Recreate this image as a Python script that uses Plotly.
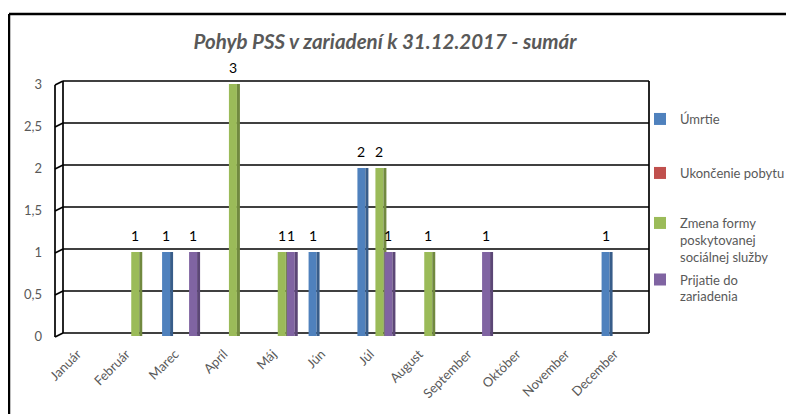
import plotly.graph_objects as go

# ---- data ----
months = ["Január", "Február", "Marec", "Apríl", "Máj", "Jún", "Júl",
          "August", "September", "Október", "November", "December"]
umrtie = [None, None, 1, None, None, 1, 2, None, None, None, None, 1]
ukoncenie = [None, None, None, None, None, None, None, None, None, None, None, None]
zmena = [None, 1, None, 3, 1, None, 2, 1, None, None, None, None]
prijatie = [None, None, 1, None, 1, None, 1, None, 1, None, None, None]
series_names = ["Úmrtie", "Ukončenie pobytu",
                "Zmena formy<br>poskytovanej<br>sociálnej služby",
                "Prijatie do<br>zariadenia"]
y_ticks = [0, 0.5, 1, 1.5, 2, 2.5, 3]
title_text = "Pohyb PSS v zariadení k 31.12.2017 - sumár"

# ---- layout geometry (screen pixels; page body has an 8px margin) ----
OFF = 8
WIDTH, HEIGHT = 794 - OFF, 414 - OFF
L, R, T, B = 58 - OFF, 794 - 644, 84 - OFF, 414 - 336
PW = WIDTH - L - R
PH = HEIGHT - T - B


def px(p):
    return (p - OFF - L) / PW


def py(p):
    return (HEIGHT - B - (p - OFF)) / PH


front_colors = ["#4F81BD", "#C0504D", "#9BBB59", "#8064A2"]
side_colors = ["#385D8A", "#8C3836", "#71893F", "#5C4776"]
all_series = [umrtie, ukoncenie, zmena, prijatie]

cw = PW / len(months)          # category width in px
slot = 9 / cw
face = 8 / cw
side = 3 / cw
start = -18 / cw

FONT = "Lato, 'Open Sans', sans-serif"
GREY = "#595959"

fig = go.Figure()
x = list(range(len(months)))
legend_ids = ["legend", "legend2", "legend3", "legend4"]
annotations = []
for i, vals in enumerate(all_series):
    off = start + i * slot
    fig.add_trace(go.Bar(
        x=x, y=vals, name=series_names[i],
        offset=off, width=face,
        marker=dict(color=front_colors[i], line=dict(width=0)),
        legend=legend_ids[i],
        hovertext=months,
    ))
    fig.add_trace(go.Bar(
        x=x, y=vals, offset=off + face, width=side,
        marker=dict(color=side_colors[i], line=dict(width=0)),
        showlegend=False, hoverinfo="skip",
    ))
    # data labels above each non-empty bar
    for xi, v in zip(x, vals):
        if v is None:
            continue
        annotations.append(dict(
            x=xi + off + face / 2, y=v, xref="x", yref="y",
            text=f"{v:g}", showarrow=False, yanchor="middle", yshift=17,
            font=dict(family=FONT, size=14, color="#000000")))

shapes = []
LINE = dict(color="#000000", width=1.7)
# back-wall grid lines and left wall
for v in y_ticks:
    yb = 333 - v * 84
    yf = 337 - v * 84
    shapes.append(dict(type="line", xref="paper", yref="paper",
                       x0=px(63), x1=px(649), y0=py(yb), y1=py(yb),
                       line=LINE, layer="below"))
    shapes.append(dict(type="line", xref="paper", yref="paper",
                       x0=px(55), x1=px(63), y0=py(yf), y1=py(yb),
                       line=LINE, layer="below"))
shapes.append(dict(type="line", xref="paper", yref="paper",
                   x0=px(63), x1=px(63), y0=py(333), y1=py(81),
                   line=LINE, layer="below"))
shapes.append(dict(type="line", xref="paper", yref="paper",
                   x0=px(55), x1=px(55), y0=py(337), y1=py(85),
                   line=LINE, layer="below"))
shapes.append(dict(type="line", xref="paper", yref="paper",
                   x0=px(649), x1=px(649), y0=py(333), y1=py(81),
                   line=LINE, layer="below"))
# outer chart border (left and top)
BORDER = dict(color="#000000", width=2.5)
shapes.append(dict(type="line", xref="paper", yref="paper",
                   x0=px(9), x1=px(9), y0=py(14), y1=py(414),
                   line=BORDER))
shapes.append(dict(type="line", xref="paper", yref="paper",
                   x0=px(9), x1=px(794), y0=py(14), y1=py(14),
                   line=BORDER))


def legend_at(ycenter):
    return dict(x=px(640), xanchor="left", y=py(ycenter), yanchor="middle",
                font=dict(family=FONT, size=13, color=GREY),
                bgcolor="rgba(0,0,0,0)", itemwidth=30, valign="top",
                borderwidth=0)


fig.update_layout(
    width=WIDTH, height=HEIGHT,
    margin=dict(l=L, r=R, t=T, b=B, pad=0, autoexpand=False),
    paper_bgcolor="white", plot_bgcolor="white",
    barmode="overlay", separators=", ",
    title=dict(text="<b><i>" + title_text + "</i></b>",
               xref="container", yref="container",
               x=(385 - OFF) / WIDTH, xanchor="center",
               y=1 - (42 - OFF) / HEIGHT, yanchor="middle",
               font=dict(family=FONT, size=20.5, color=GREY)),
    xaxis=dict(range=[-0.5, len(months) - 0.5], tickmode="array",
               tickvals=x, ticktext=months, tickangle=-45,
               showgrid=False, zeroline=False, showline=False, ticks="",
               ticklabelstandoff=7, ticklabelshift=-5,
               tickfont=dict(family=FONT, size=13, color=GREY)),
    yaxis=dict(range=[0, 3], tickmode="array", tickvals=y_ticks,
               tickformat=".1~f", showgrid=False, zeroline=False,
               showline=False, ticks="", ticklabelstandoff=15,
               tickfont=dict(family=FONT, size=13, color=GREY)),
    shapes=shapes,
    annotations=annotations,
    legend=legend_at(119),
    legend2=legend_at(173),
    legend3=legend_at(240),
    legend4=legend_at(288),
    showlegend=True,
)

fig.write_html("out.html")
